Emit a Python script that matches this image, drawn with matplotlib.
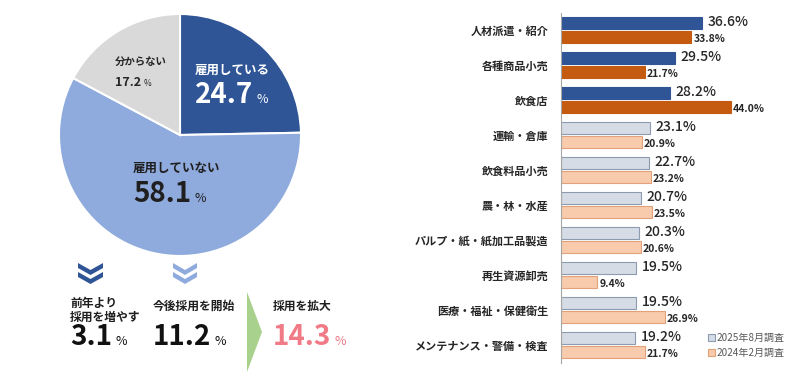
import matplotlib.pyplot as plt
from matplotlib.patches import Polygon, Patch

plt.rcParams['font.family'] = ['Noto Sans CJK JP', 'DejaVu Sans']

# pie data
pie_labels = ['雇用している', '雇用していない', '分からない']
pie_values = [24.7, 58.1, 17.2]

# breakdown under the pie
sub_labels = ['前年より\n採用を増やす', '今後採用を開始', '採用を拡大']
sub_values = [3.1, 11.2, 14.3]

# bar chart data
categories = ['人材派遣・紹介', '各種商品小売', '飲食店', '運輸・倉庫', '飲食料品小売',
              '農・林・水産', 'パルプ・紙・紙加工品製造', '再生資源卸売', '医療・福祉・保健衛生',
              'メンテナンス・警備・検査']
aug_2025 = [36.6, 29.5, 28.2, 23.1, 22.7, 20.7, 20.3, 19.5, 19.5, 19.2]
feb_2024 = [33.8, 21.7, 44.0, 20.9, 23.2, 23.5, 20.6, 9.4, 26.9, 21.7]
series_names = ['2025年8月調査', '2024年2月調査']

W, H = 800, 378
fig = plt.figure(figsize=(W / 100, H / 100), dpi=100)

# overlay axes in pixel coordinates for free text / shapes
ov = fig.add_axes([0, 0, 1, 1], zorder=5)
ov.set_xlim(0, W)
ov.set_ylim(H, 0)
ov.set_axis_off()

# ---- pie ----
cx, cy, r = 180, 135, 121
pax = fig.add_axes([(cx - r) / W, (H - cy - r) / H, 2 * r / W, 2 * r / H])
pax.pie(pie_values, colors=['#2F5597', '#8FAADC', '#D9D9D9'], startangle=90,
        counterclock=False, wedgeprops=dict(edgecolor='white', linewidth=1.5))
pax.set_xlim(-1, 1)
pax.set_ylim(-1, 1)

renderer = fig.canvas.get_renderer()


def pct_text(x, y, value, size, color, small=None, weight='bold'):
    t = ov.text(x, y, f'{value:.1f}', fontsize=size, color=color, ha='left', va='baseline',
                fontweight=weight)
    bb = t.get_window_extent(renderer)
    x_end = ov.transData.inverted().transform((bb.x1, bb.y0))[0]
    ov.text(x_end + 3, y, '%', fontsize=small or size * 0.45, color=color, ha='left', va='baseline')


# pie labels
ov.text(195, 70, pie_labels[0], fontsize=9, color='white', va='center', fontweight='bold')
pct_text(195, 103, pie_values[0], 20, 'white')
ov.text(133, 168, pie_labels[1], fontsize=9, color='#1F1F1F', va='center', fontweight='bold')
pct_text(133, 202, pie_values[1], 20, '#1F1F1F')
ov.text(115, 62, pie_labels[2], fontsize=7.5, color='#262626', va='center', fontweight='bold')
pct_text(115, 86, pie_values[2], 9, '#262626', small=6)


# chevrons
def chevron(x0, y0, w, color):
    d, t = 7, 5
    for k in range(2):
        yy = y0 + k * 9
        pts = [(x0, yy), (x0 + w / 2, yy + d), (x0 + w, yy), (x0 + w, yy + t),
               (x0 + w / 2, yy + d + t), (x0, yy + t)]
        ov.add_patch(Polygon(pts, closed=True, color=color, lw=0))


chevron(78, 263, 25, '#2F5597')
chevron(173, 263, 24, '#8FAADC')

# green arrow
ov.add_patch(Polygon([(247, 292), (262, 332), (247, 372)], closed=True, color='#A9D18E', lw=0))

# breakdown texts
ov.text(70, 310, sub_labels[0], fontsize=8.5, color='#1F1F1F', va='center', linespacing=1.1,
        fontweight='bold')
pct_text(70, 345, sub_values[0], 20, '#111111', small=9)
ov.text(153, 306, sub_labels[1], fontsize=8.5, color='#1F1F1F', va='center', fontweight='bold')
pct_text(153, 345, sub_values[1], 20, '#111111', small=9)
ov.text(273, 306, sub_labels[2], fontsize=8.5, color='#1F1F1F', va='center', fontweight='bold')
pct_text(273, 345, sub_values[2], 20, '#F07A85', small=9)

# ---- bar chart ----
ax0 = 561
scale = 3.86  # px per percent
bax = fig.add_axes([ax0 / W, (H - 362.5) / H, (W - ax0) / W, 350 / H])
n_hl = 3
ys = list(range(len(categories)))
c1 = ['#2F5597' if i < n_hl else '#D6DCE5' for i in ys]
e1 = ['#2F5597' if i < n_hl else '#8C9BB0' for i in ys]
c2 = ['#C55A11' if i < n_hl else '#F8CBAD' for i in ys]
e2 = ['#C55A11' if i < n_hl else '#E3A179' for i in ys]
bh = 0.35
bax.barh([y - 0.2 for y in ys], aug_2025, height=bh, color=c1, edgecolor=e1, linewidth=0.8)
bax.barh([y + 0.2 for y in ys], feb_2024, height=bh, color=c2, edgecolor=e2, linewidth=0.8)
for y, v in zip(ys, aug_2025):
    bax.text(v + 1.4, y - 0.23, f'{v:.1f}%', fontsize=10, color='#262626', va='center',
             fontweight='medium')
for y, v in zip(ys, feb_2024):
    bax.text(v + 0.5, y + 0.27, f'{v:.1f}%', fontsize=7.5, color='#262626', va='center',
             fontweight='bold')
bax.set_xlim(0, (W - ax0) / scale)
bax.set_ylim(len(categories) - 0.5, -0.5)
bax.set_yticks(ys)
bax.set_yticklabels(categories, fontsize=8, fontweight='bold', color='#262626')
bax.set_xticks([])
bax.tick_params(axis='y', length=0, pad=9)
for s in ['top', 'right', 'bottom']:
    bax.spines[s].set_visible(False)
bax.spines['left'].set_color('#A6A6A6')
bax.patch.set_alpha(0)

handles = [Patch(facecolor='#D6DCE5', edgecolor='#8C9BB0', lw=0.8),
           Patch(facecolor='#F8CBAD', edgecolor='#E3A179', lw=0.8)]
fig.legend(handles, series_names, loc='upper left', bbox_to_anchor=(703 / W, 1 - 328 / H),
           frameon=False, fontsize=7.2, handlelength=0.7, handleheight=0.7,
           handletextpad=0.15, labelspacing=0.5, labelcolor='#595959', borderpad=0)

fig.savefig('out.png', dpi=100)
